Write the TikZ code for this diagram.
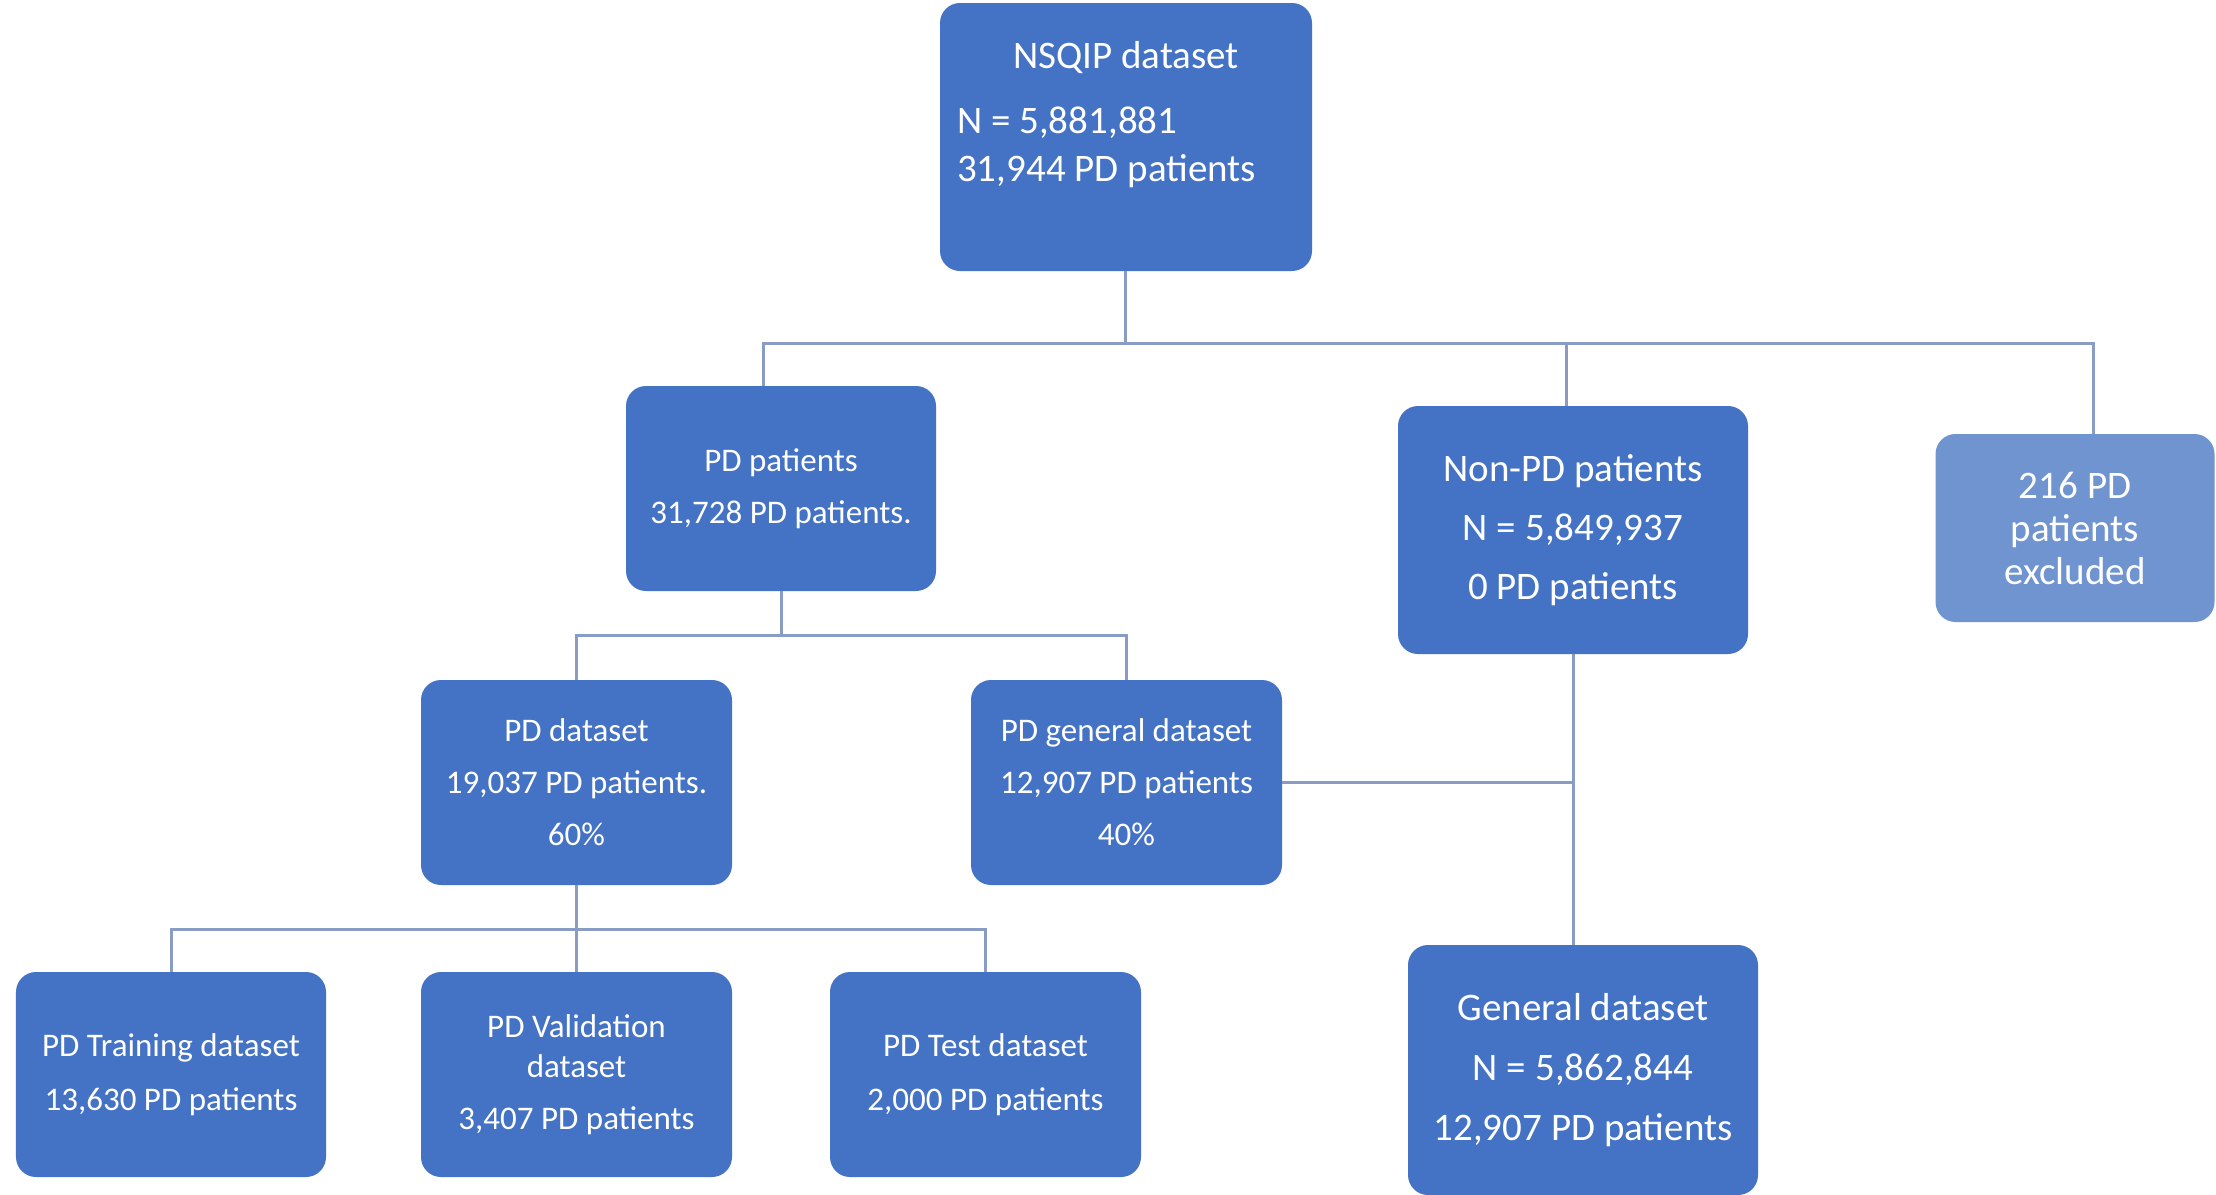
\documentclass[tikz,border=0pt]{standalone}
\usepackage{fontspec}
\setmainfont{Carlito}
\definecolor{boxblue}{RGB}{68,114,196}
\definecolor{lightbox}{RGB}{112,148,208}
\definecolor{linecol}{RGB}{136,156,196}
\tikzset{
  box/.style={rounded corners=20bp, fill=boxblue, draw=none, text=white, inner sep=0pt, align=center},
  lbox/.style={box, fill=lightbox},
  small/.style={font=\fontsize{33bp}{52bp}\selectfont},
  big/.style={font=\fontsize{39bp}{59bp}\selectfont},
  txt/.style={text=white, inner sep=0pt},
  conn/.style={draw=linecol, line width=3bp}
}
\begin{document}
\begin{tikzpicture}[x=1bp,y=-1bp]
\useasboundingbox[fill=white] (0,0) rectangle (2216,1194);

% boxes
\node[box, minimum width=372bp, minimum height=268bp] (nsqip) at (1126,137) {};
\node[txt, font=\fontsize{39bp}{48bp}\selectfont] (nsqipt) at (1126,58) {NSQIP dataset};
\node[txt, font=\fontsize{39bp}{48bp}\selectfont, align=left, anchor=west] (nsqipb) at (957,147) {N = 5,881,881\\31,944 PD patients};

\node[box, small, minimum width=310bp, minimum height=205bp] (pdp) at (781,488.5) {PD patients\\31,728 PD patients.};
\node[box, big, minimum width=350bp, minimum height=248bp] (nonpd) at (1573,530) {Non-PD patients\\N = 5,849,937\\0 PD patients};
\node[lbox, font=\fontsize{39bp}{43bp}\selectfont, minimum width=279bp, minimum height=188bp] (excl) at (2075,528) {216 PD\\patients\\excluded};

\node[box, small, minimum width=311bp, minimum height=205bp] (pdd) at (576.5,782.5) {PD dataset\\19,037 PD patients.\\60\%};
\node[box, small, minimum width=311bp, minimum height=205bp] (pdg) at (1126.5,782.5) {PD general dataset\\12,907 PD patients\\40\%};

\node[box, font=\fontsize{33bp}{54bp}\selectfont, minimum width=310bp, minimum height=205bp] (train) at (171,1074.5) {PD Training dataset\\13,630 PD patients};
\node[box, font=\fontsize{33bp}{40bp}\selectfont, minimum width=311bp, minimum height=205bp] (val) at (576.5,1074.5) {PD Validation\\dataset\\[12bp]3,407 PD patients};
\node[box, font=\fontsize{33bp}{54bp}\selectfont, minimum width=311bp, minimum height=205bp] (test) at (985.5,1074.5) {PD Test dataset\\2,000 PD patients};

\node[box, font=\fontsize{39bp}{60bp}\selectfont, minimum width=350bp, minimum height=250bp] (gen) at (1583,1070) {General dataset\\N = 5,862,844\\12,907 PD patients};

% connectors
\coordinate (j1) at (1125,343);
\draw[conn] (nsqip.south -| j1) -- (j1);
\draw[conn] (j1) -| ([xshift=-18bp]pdp.north);
\draw[conn] (j1) -| ([xshift=-7bp]nonpd.north);
\draw[conn] (j1) -| ([xshift=18bp]excl.north);

\coordinate (j2) at (781,635);
\draw[conn] (pdp.south) -- (j2);
\draw[conn] (j2) -| (pdd.north);
\draw[conn] (j2) -| (pdg.north);

\coordinate (j3) at (576.5,929);
\draw[conn] (pdd.south) -- (j3);
\draw[conn] (j3) -| (train.north);
\draw[conn] (j3) -- (val.north);
\draw[conn] (j3) -| (test.north);

\draw[conn] (nonpd.south) -- (nonpd.south |- gen.north);
\draw[conn] (pdg.east) -- (pdg.east -| nonpd.south);
\end{tikzpicture}
\end{document}
